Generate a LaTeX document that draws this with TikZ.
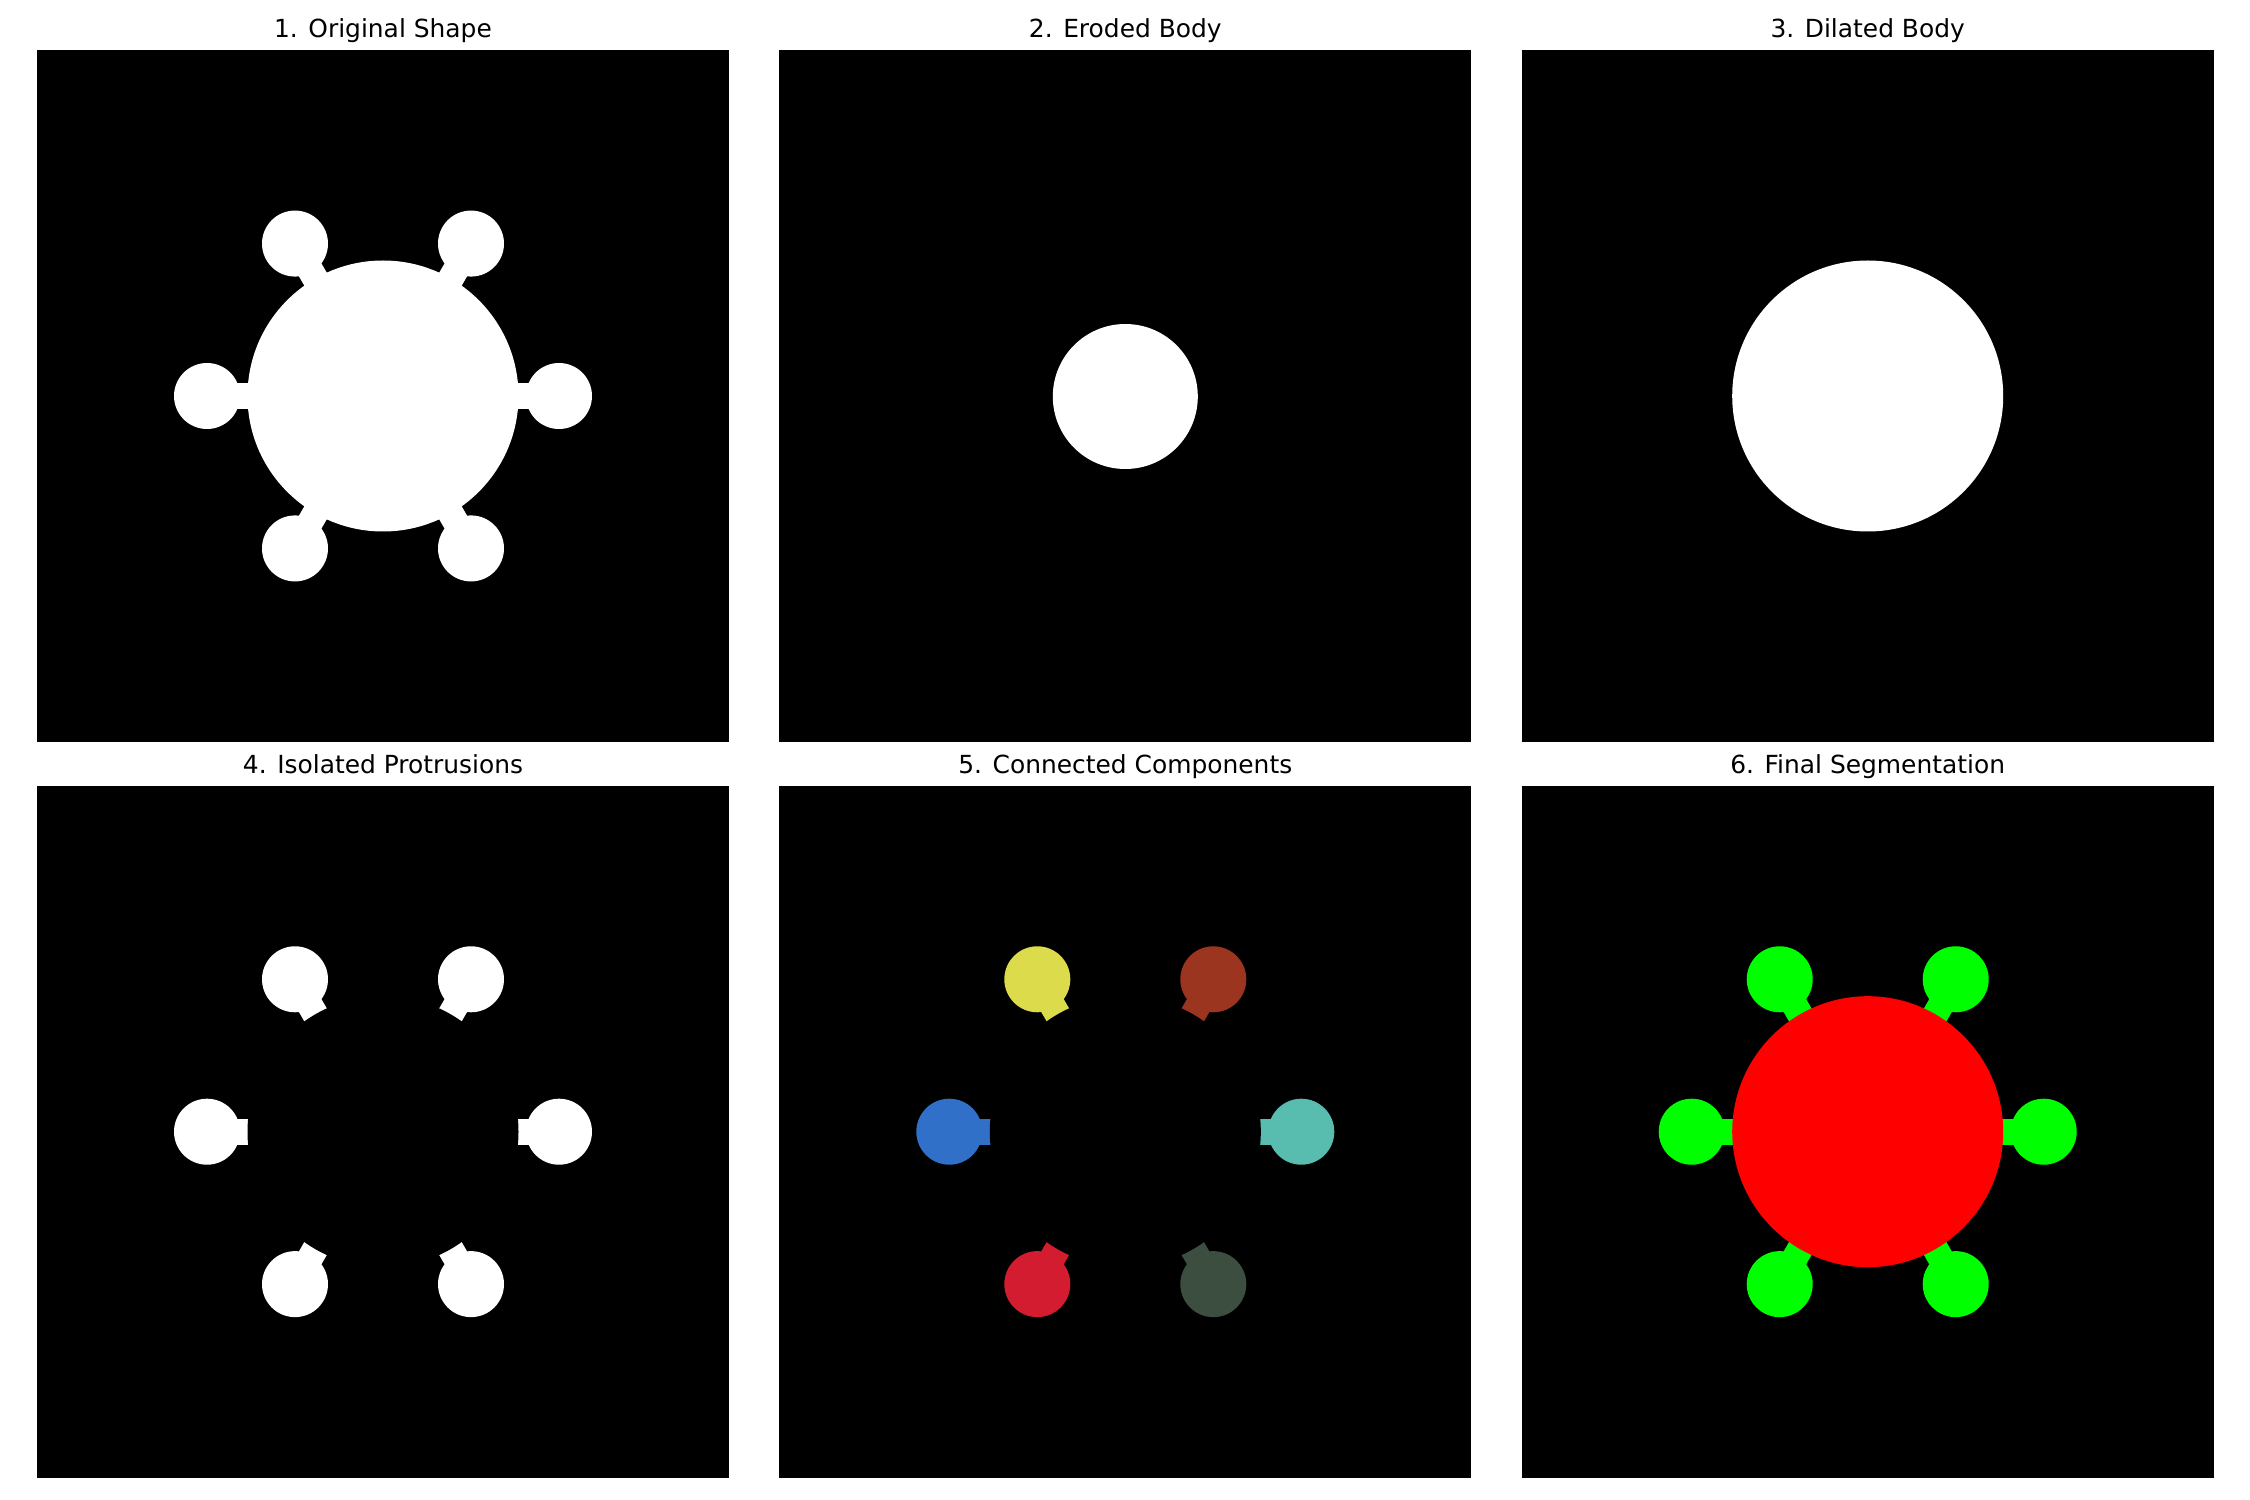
\documentclass[tikz,border=0pt]{standalone}
\usepackage{fontspec}
\setmainfont{DejaVu Sans}
\definecolor{compyellow}{HTML}{DCDB4C}
\definecolor{compbrown}{HTML}{9C3520}
\definecolor{compblue}{HTML}{3070C8}
\definecolor{compteal}{HTML}{58BCAE}
\definecolor{compred}{HTML}{D41C30}
\definecolor{compdark}{HTML}{3C4E40}
\definecolor{segred}{HTML}{FF0000}
\definecolor{seggreen}{HTML}{00FF00}
\usetikzlibrary{calc}

\begin{document}
\begin{tikzpicture}[x=0.4818pt,y=-0.4818pt,
  panel/.style={fill=black},
  paneltitle/.style={font=\fontsize{12}{14}\selectfont,anchor=base},
  stem/.style={line width=12.5pt}]
  \useasboundingbox[fill=white] (0,0) rectangle (2250,1500);

  % Image panels (black background)
  \foreach \px in {37,779.3,1521.7}{
    \fill[panel] (\px,50) rectangle ++(692,692);
    \fill[panel] (\px,785.7) rectangle ++(692,692);
  }

  % Titles
  \node[paneltitle] (t1) at (383,37.5) {1. Original Shape};
  \node[paneltitle] (t2) at (1125.3,37.5) {2. Eroded Body};
  \node[paneltitle] (t3) at (1867.7,37.5) {3. Dilated Body};
  \node[paneltitle] (t4) at (383,773.2) {4. Isolated Protrusions};
  \node[paneltitle] (t5) at (1125.3,773.2) {5. Connected Components};
  \node[paneltitle] (t6) at (1867.7,773.2) {6. Final Segmentation};

  % 1. Original shape: body + six knobs on stems
  \foreach \a in {0,60,...,300}{
    \draw[white,stem] (383,396) -- ++(\a:176);
    \fill[white] (383,396) ++(\a:176) circle (33);
  }
  \fill[white] (383,396) circle (135.5);

  % 2. Eroded body
  \fill[white] (1125.3,396.5) circle (72.5);

  % 3. Dilated body
  \fill[white] (1867.7,396) circle (135.5);

  % 4. Isolated protrusions (shape minus dilated body)
  \foreach \a in {0,60,...,300}{
    \draw[white,stem] (383,1131.7) -- ++(\a:176);
    \fill[white] (383,1131.7) ++(\a:176) circle (33);
  }
  \fill[black] (383,1131.7) circle (135.5);

  % 5. Connected components, one colour each
  \foreach \a/\c in {0/compteal,60/compdark,120/compred,180/compblue,240/compyellow,300/compbrown}{
    \draw[\c,stem] (1125.3,1131.7) -- ++(\a:176);
    \fill[\c] (1125.3,1131.7) ++(\a:176) circle (33);
  }
  \fill[black] (1125.3,1131.7) circle (135.5);

  % 6. Final segmentation: protrusions green, body red
  \foreach \a in {0,60,...,300}{
    \draw[seggreen,stem] (1867.7,1131.7) -- ++(\a:176);
    \fill[seggreen] (1867.7,1131.7) ++(\a:176) circle (33);
  }
  \fill[segred] (1867.7,1131.7) circle (135.5);
\end{tikzpicture}
\end{document}
